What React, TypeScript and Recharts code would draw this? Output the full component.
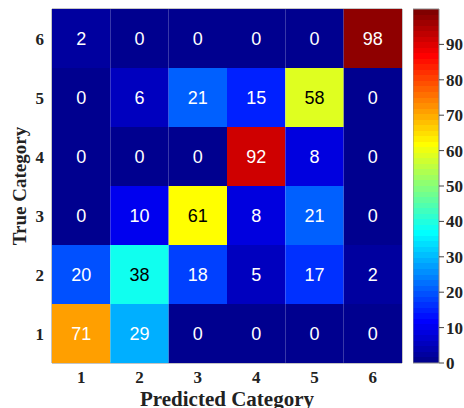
import {
  ScatterChart,
  Scatter,
  XAxis,
  YAxis,
  ReferenceArea,
  Label,
  BarChart,
  Bar,
} from 'recharts';

// confusion matrix, percentages; one array per true category
const categories = [1, 2, 3, 4, 5, 6];
const trueCat1 = [71, 29, 0, 0, 0, 0];
const trueCat2 = [20, 38, 18, 5, 17, 2];
const trueCat3 = [0, 10, 61, 8, 21, 0];
const trueCat4 = [0, 0, 0, 92, 8, 0];
const trueCat5 = [0, 6, 21, 15, 58, 0];
const trueCat6 = [2, 0, 0, 0, 0, 98];
const colorbarTicks = [0, 10, 20, 30, 40, 50, 60, 70, 80, 90];
const colorMax = 100;

const rows = [trueCat1, trueCat2, trueCat3, trueCat4, trueCat5, trueCat6];

const cells = rows.flatMap((row, i) =>
  row.map((value, j) => ({ x: categories[j], y: categories[i], value }))
);

const W = 464;
const H = 408;
const PLOT_LEFT = 52;
const PLOT_RIGHT = 402;
const PLOT_TOP = 9;
const PLOT_BOTTOM = 363;
const CELL_W = (PLOT_RIGHT - PLOT_LEFT) / 6;
const CELL_H = (PLOT_BOTTOM - PLOT_TOP) / 6;

const serif = '"Liberation Serif", "Times New Roman", serif';
const sans = '"Liberation Sans", Arial, sans-serif';

// matlab-style jet(64)
function jet(t: number) {
  const c = (v: number) => Math.round(255 * Math.max(0, Math.min(1, v)));
  const r = c(1.5 - Math.abs(4 * t - 3));
  const g = c(1.5 - Math.abs(4 * t - 2));
  const b = c(1.5 - Math.abs(4 * t - 1));
  return `rgb(${r},${g},${b})`;
}

function valueColor(v: number) {
  const idx = Math.min(64, Math.floor((v / colorMax) * 64) + 1);
  return jet(idx / 64);
}

function HeatCell(props: any) {
  const { cx, cy, payload } = props;
  const dark = payload.value > 33 && payload.value < 66;
  return (
    <g>
      <rect
        x={cx - CELL_W / 2}
        y={cy - CELL_H / 2}
        width={CELL_W}
        height={CELL_H}
        fill={valueColor(payload.value)}
      />
      <text
        x={cx}
        y={cy}
        textAnchor="middle"
        dominantBaseline="central"
        fontFamily={sans}
        fontSize={18}
        fill={dark ? '#000' : '#fff'}
      >
        {payload.value}
      </text>
    </g>
  );
}

const tickStyle = { fontFamily: serif, fontWeight: 'bold', fontSize: 17, fill: '#222' };

const bands = Array.from({ length: 64 }, (_, i) => i);

export default function App() {
  return (
    <div style={{ position: 'absolute', left: 0, top: 0, width: W, height: H, overflow: 'hidden', background: '#fff' }}>
      <div style={{ position: 'absolute', left: 0, top: 0 }}>
        <ScatterChart width={W} height={H} margin={{ top: PLOT_TOP, right: W - PLOT_RIGHT, bottom: 0, left: 0 }}>
          <XAxis
            type="number"
            dataKey="x"
            domain={[0.5, 6.5]}
            ticks={categories}
            height={H - PLOT_BOTTOM}
            tickLine={false}
            axisLine={false}
            tick={tickStyle}
          >
            <Label
              value="Predicted Category"
              position="insideBottom"
              offset={2}
              style={{ fontFamily: serif, fontWeight: 'bold', fontSize: 21, fill: '#222' }}
            />
          </XAxis>
          <YAxis
            type="number"
            dataKey="y"
            domain={[0.5, 6.5]}
            ticks={categories}
            width={PLOT_LEFT}
            tickLine={false}
            axisLine={false}
            tick={tickStyle}
          >
            <Label
              content={() => (
                <text
                  x={19}
                  y={(PLOT_TOP + PLOT_BOTTOM) / 2}
                  transform={`rotate(-90 19 ${(PLOT_TOP + PLOT_BOTTOM) / 2})`}
                  textAnchor="middle"
                  dominantBaseline="central"
                  fontFamily={serif}
                  fontWeight="bold"
                  fontSize={19}
                  fill="#222"
                >
                  True Category
                </text>
              )}
            />
          </YAxis>
          <Scatter data={cells} shape={HeatCell} isAnimationActive={false} />
          <ReferenceArea x1={0.5} x2={6.5} y1={0.5} y2={6.5} fill="none" stroke="#8a8a8a" strokeWidth={1} ifOverflow="visible" />
        </ScatterChart>
      </div>
      <div style={{ position: 'absolute', left: 413, top: 0 }}>
        <BarChart
          width={W - 413}
          height={H}
          data={[{ name: 'scale', value: colorMax }]}
          margin={{ top: PLOT_TOP, right: 0, bottom: H - PLOT_BOTTOM, left: 0 }}
          barCategoryGap={0}
        >
          <defs>
            <linearGradient id="jetBar" x1="0" y1="1" x2="0" y2="0">
              {bands.flatMap((i) => [
                <stop key={`a${i}`} offset={i / 64} stopColor={jet((i + 1) / 64)} />,
                <stop key={`b${i}`} offset={(i + 1) / 64} stopColor={jet((i + 1) / 64)} />,
              ])}
            </linearGradient>
          </defs>
          <XAxis dataKey="name" hide />
          <YAxis
            orientation="right"
            domain={[0, colorMax]}
            ticks={colorbarTicks}
            width={W - 413 - 26}
            axisLine={false}
            tickLine={{ stroke: '#444' }}
            tickSize={5}
            tickMargin={2}
            tick={{ ...tickStyle, textAnchor: 'start' }}
            interval={0}
          />
          <Bar dataKey="value" fill="url(#jetBar)" stroke="#8a8a8a" strokeWidth={1} isAnimationActive={false} />
        </BarChart>
      </div>
    </div>
  );
}
